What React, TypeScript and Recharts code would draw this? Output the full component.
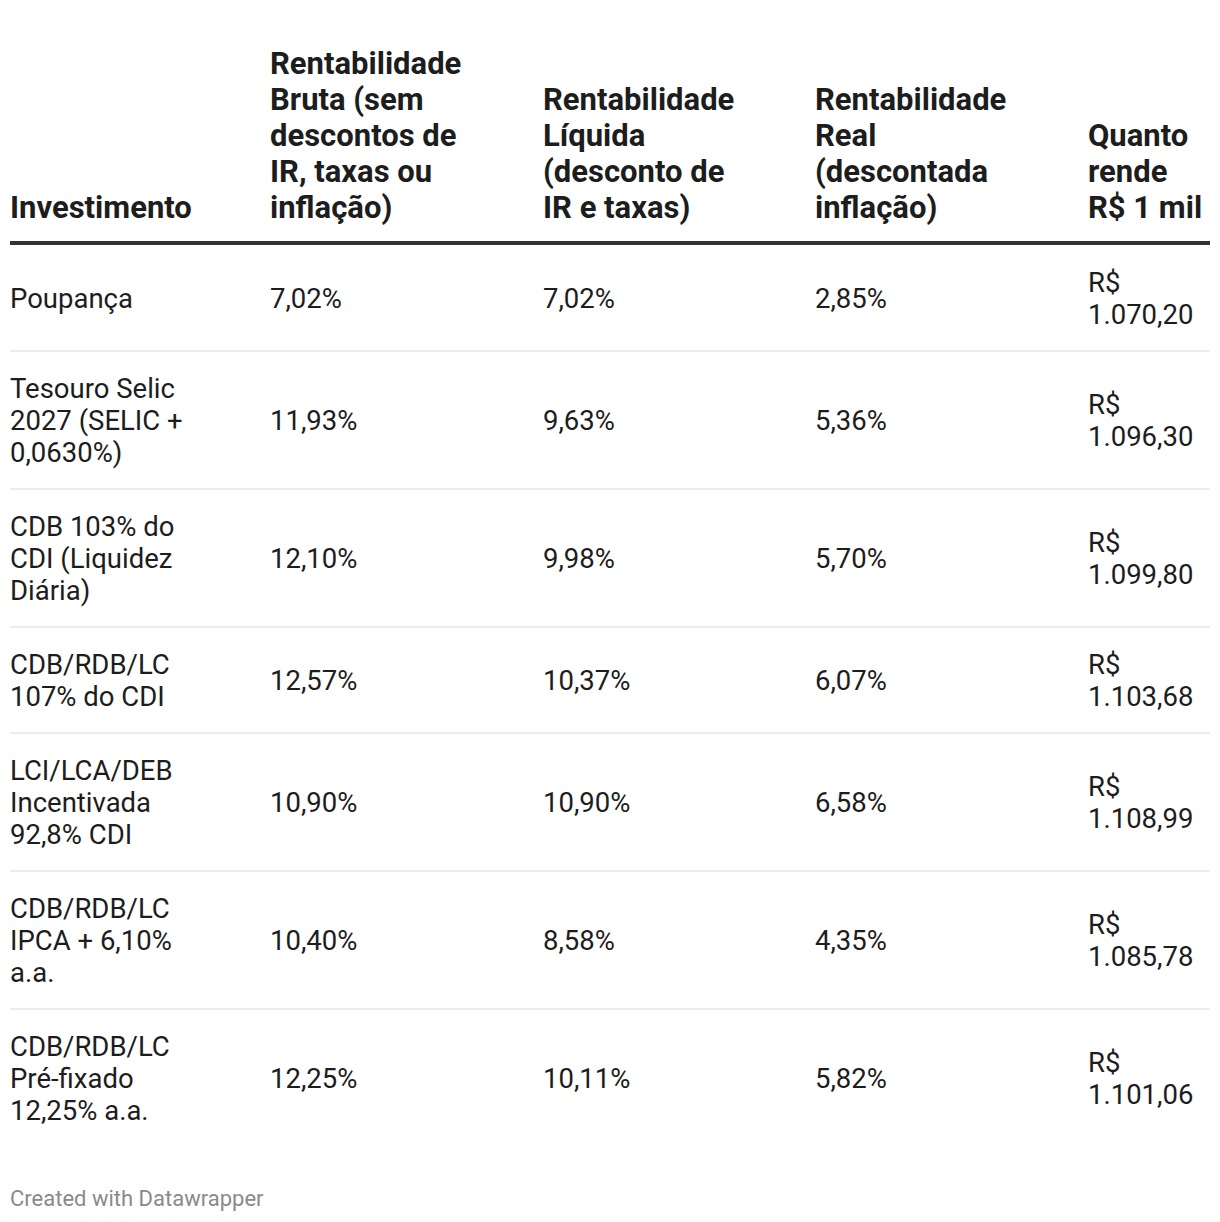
import React from 'react';
import { ComposedChart, Scatter, XAxis, YAxis, ReferenceLine, Customized } from 'recharts';

if (typeof document !== 'undefined') {
  document.body.style.margin = '0';
}

// ---- data ----
const headers = [
  'Investimento',
  'Rentabilidade\nBruta (sem\ndescontos de\nIR, taxas ou\ninflação)',
  'Rentabilidade\nLíquida\n(desconto de\nIR e taxas)',
  'Rentabilidade\nReal\n(descontada\ninflação)',
  'Quanto\nrende\nR$ 1 mil',
];

const investments = [
  'Poupança',
  'Tesouro Selic\n2027 (SELIC +\n0,0630%)',
  'CDB 103% do\nCDI (Liquidez\nDiária)',
  'CDB/RDB/LC\n107% do CDI',
  'LCI/LCA/DEB\nIncentivada\n92,8% CDI',
  'CDB/RDB/LC\nIPCA + 6,10%\na.a.',
  'CDB/RDB/LC\nPré-fixado\n12,25% a.a.',
];

const grossReturn = ['7,02%', '11,93%', '12,10%', '12,57%', '10,90%', '10,40%', '12,25%'];
const netReturn = ['7,02%', '9,63%', '9,98%', '10,37%', '10,90%', '8,58%', '10,11%'];
const realReturn = ['2,85%', '5,36%', '5,70%', '6,07%', '6,58%', '4,35%', '5,82%'];
const yieldOn1000 = [
  'R$\n1.070,20',
  'R$\n1.096,30',
  'R$\n1.099,80',
  'R$\n1.103,68',
  'R$\n1.108,99',
  'R$\n1.085,78',
  'R$\n1.101,06',
];

const footer = 'Created with Datawrapper';

// ---- layout / style ----
const W = 1220;
const H = 1222;
const FONT = 'Roboto, "Noto Sans", sans-serif';
const TEXT = '#1d1d1d';
const BODY_SIZE = 27.5;
const BODY_LH = 32;
const ROW_PAD = 42;
const HEAD_SIZE = 31;
const HEAD_LH = 36;
const HEAD_BASE = 218;
const RULE_W = 4;
const colWidths = [260, 273, 272, 273, 122];
const colStarts = colWidths.map((_, i) => colWidths.slice(0, i).reduce((a, b) => a + b, 0));
const tableWidth = colWidths.reduce((a, b) => a + b, 0);

const columns = [investments, grossReturn, netReturn, realReturn, yieldOn1000];

const lineCount = (s: string) => s.split('\n').length;
const rowHeights = investments.map((_, r) =>
  Math.max(...columns.map((c) => lineCount(c[r]))) * BODY_LH + ROW_PAD
);
const rowStarts = rowHeights.map((_, i) => rowHeights.slice(0, i).reduce((a, b) => a + b, 0));
const tableHeight = rowHeights.reduce((a, b) => a + b, 0);
const separators = rowStarts.slice(1);

const columnData = columns.map((col, c) =>
  col.map((txt, r) => ({ x: colStarts[c], y: rowStarts[r] + rowHeights[r] / 2, text: txt }))
);

const CellText = (props: any) => {
  const { cx, cy, payload } = props;
  if (cx == null || cy == null) return null;
  const lines: string[] = String(payload.text).split('\n');
  const y0 = cy - ((lines.length - 1) * BODY_LH) / 2 + 9.7;
  return (
    <text x={cx} y={y0} fontFamily={FONT} fontSize={BODY_SIZE} fill={TEXT}>
      {lines.map((l, i) => (
        <tspan key={i} x={cx} dy={i === 0 ? 0 : BODY_LH}>
          {l}
        </tspan>
      ))}
    </text>
  );
};

const MARGIN = { top: 245, right: W - 10 - tableWidth, bottom: 0, left: 10 };
MARGIN.bottom = H - MARGIN.top - tableHeight;

const HeaderAndFooter = () => (
  <g>
    {headers.map((h, c) => {
      const lines = h.split('\n');
      const x = MARGIN.left + colStarts[c];
      const y0 = HEAD_BASE - (lines.length - 1) * HEAD_LH;
      return (
        <text key={c} x={x} y={y0} fontFamily={FONT} fontSize={HEAD_SIZE} fontWeight={700} fill={TEXT}>
          {lines.map((l, i) => (
            <tspan key={i} x={x} dy={i === 0 ? 0 : HEAD_LH}>
              {l}
            </tspan>
          ))}
        </text>
      );
    })}
    <line
      x1={MARGIN.left}
      x2={MARGIN.left + tableWidth}
      y1={MARGIN.top - RULE_W / 2}
      y2={MARGIN.top - RULE_W / 2}
      stroke="#333333"
      strokeWidth={RULE_W}
    />
    <text x={MARGIN.left} y={1206} fontFamily={FONT} fontSize={22} fill="#8a8a8a">
      {footer}
    </text>
  </g>
);

export default function App() {
  return (
    <div style={{ width: W, height: H, background: '#ffffff' }}>
      <ComposedChart width={W} height={H} margin={MARGIN}>
        <XAxis type="number" dataKey="x" domain={[0, tableWidth]} hide />
        <YAxis type="number" dataKey="y" domain={[0, tableHeight]} reversed hide />
        {separators.map((s, i) => (
          <ReferenceLine key={i} y={s} stroke="#ececec" strokeWidth={2} ifOverflow="extendDomain" />
        ))}
        {columnData.map((d, c) => (
          <Scatter key={c} data={d} dataKey="y" shape={CellText} isAnimationActive={false} />
        ))}
        <Customized component={HeaderAndFooter} />
      </ComposedChart>
    </div>
  );
}
